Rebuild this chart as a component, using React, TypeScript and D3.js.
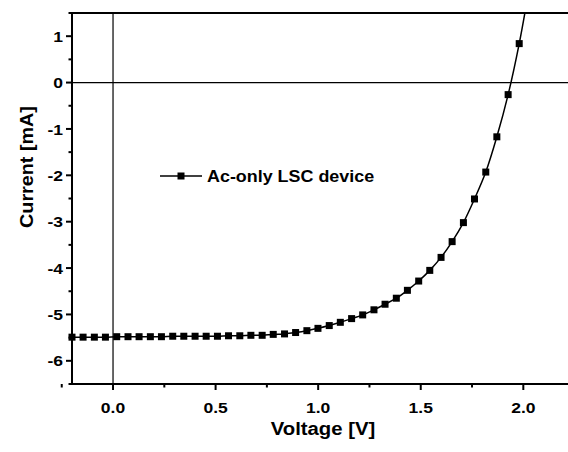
import React from "react";
import * as d3 from "d3";

const voltage = [-0.2, -0.146, -0.091, -0.037, 0.018, 0.073, 0.127, 0.182, 0.236, 0.291, 0.345, 0.4, 0.454, 0.509, 0.563, 0.618, 0.672, 0.727, 0.781, 0.836, 0.89, 0.945, 0.999, 1.054, 1.108, 1.163, 1.217, 1.272, 1.326, 1.381, 1.435, 1.49, 1.544, 1.599, 1.653, 1.708, 1.762, 1.817, 1.871, 1.926, 1.98];
const current = [-5.49, -5.49, -5.49, -5.49, -5.48, -5.48, -5.48, -5.48, -5.48, -5.47, -5.47, -5.47, -5.47, -5.47, -5.46, -5.46, -5.45, -5.45, -5.43, -5.42, -5.39, -5.35, -5.30, -5.24, -5.17, -5.09, -5.01, -4.90, -4.78, -4.65, -4.48, -4.28, -4.05, -3.77, -3.43, -3.02, -2.51, -1.93, -1.17, -0.26, 0.84];
// fitted line continues past last marker
const tailVoltage = [2.035];
const tailCurrent = [2.2];

const xTicks = [0.0, 0.5, 1.0, 1.5, 2.0];
const xMinor = [-0.25, 0.25, 0.75, 1.25, 1.75, 2.25];
const yTicks = [1, 0, -1, -2, -3, -4, -5, -6];
const yMinor = [1.5, 0.5, -0.5, -1.5, -2.5, -3.5, -4.5, -5.5, -6.5];
const seriesName = "Ac-only LSC device";

const W = 568, H = 452;
const L = 72, R = 574.6, T = 13, B = 384;
const FONT = "'Liberation Sans', Arial, sans-serif";

function T2(props: { x: number; y: number; sx: number; size: number; anchor?: string; rotate?: number; dy?: string; children: React.ReactNode }) {
  const { x, y, sx, size, anchor, rotate, dy, children } = props;
  return (
    <text
      transform={`translate(${x},${y})${rotate ? ` rotate(${rotate})` : ""} scale(${sx},1)`}
      textAnchor={anchor || "start"}
      fontSize={size}
      fontWeight="bold"
      dy={dy}
      fill="#000"
    >
      {children}
    </text>
  );
}

export default function App() {
  const x = d3.scaleLinear().domain([-0.2, 2.25]).range([L, R]);
  const y = d3.scaleLinear().domain([-6.5, 1.5]).range([B, T]);
  const pts = voltage.map((v, i) => [v, current[i]] as [number, number]);
  const linePts = pts.concat(tailVoltage.map((v, i) => [v, tailCurrent[i]] as [number, number]));
  const line = d3.line<[number, number]>().x(d => x(d[0])).y(d => y(d[1])).curve(d3.curveCatmullRom);
  const ms = 7;
  const legX = 160, legY = 176;
  return (
    <svg width={W} height={H} style={{ position: "absolute", left: 0, top: 0, background: "#fff" }} fontFamily={FONT}>
      <defs>
        <clipPath id="plot"><rect x={L} y={T} width={R - L} height={B - T} /></clipPath>
      </defs>
      <line x1={x(0)} x2={x(0)} y1={T} y2={B} stroke="#000" strokeWidth={1.2} />
      <line x1={L} x2={R} y1={y(0)} y2={y(0)} stroke="#000" strokeWidth={1.2} />
      <g clipPath="url(#plot)">
        <path d={line(linePts) || ""} fill="none" stroke="#000" strokeWidth={1.5} />
      </g>
      {pts.map((p, i) => (
        <rect key={i} x={x(p[0]) - ms / 2} y={y(p[1]) - ms / 2} width={ms} height={ms} fill="#000" />
      ))}
      <path d={`M${L},${T}H${R}V${B}H${L}Z`} fill="none" stroke="#000" strokeWidth={2} />
      {yTicks.map(t => (
        <g key={"y" + t}>
          <line x1={L - 6} x2={L} y1={y(t)} y2={y(t)} stroke="#000" strokeWidth={2} />
          <T2 x={L - 9} y={y(t)} sx={1.13} size={15.5} anchor="end" dy="0.36em">{t}</T2>
        </g>
      ))}
      {yMinor.map(t => (
        <line key={"ym" + t} x1={L - 3.5} x2={L} y1={y(t)} y2={y(t)} stroke="#000" strokeWidth={2} />
      ))}
      {xTicks.map(t => (
        <g key={"x" + t}>
          <line x1={x(t)} x2={x(t)} y1={B} y2={B + 6} stroke="#000" strokeWidth={2} />
          <T2 x={x(t)} y={B + 28.5} sx={1.13} size={15.5} anchor="middle">{t.toFixed(1)}</T2>
        </g>
      ))}
      {xMinor.map(t => (
        <line key={"xm" + t} x1={x(t)} x2={x(t)} y1={B} y2={B + 3.5} stroke="#000" strokeWidth={2} />
      ))}
      <T2 x={323} y={435} sx={1.07} size={19} anchor="middle">Voltage [V]</T2>
      <T2 x={33} y={167} sx={1.04} size={19} anchor="middle" rotate={-90}>Current [mA]</T2>
      <line x1={legX} x2={legX + 42} y1={legY} y2={legY} stroke="#000" strokeWidth={1.5} />
      <rect x={legX + 21 - ms / 2} y={legY - ms / 2} width={ms} height={ms} fill="#000" />
      <T2 x={legX + 47} y={legY} sx={1.12} size={16} dy="0.36em">{seriesName}</T2>
    </svg>
  );
}
